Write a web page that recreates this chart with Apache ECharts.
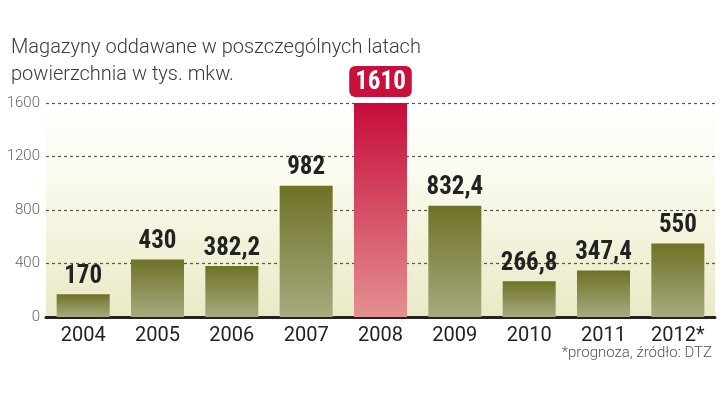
<!DOCTYPE html>
<html><head><meta charset="utf-8">
<script src="https://cdn.jsdelivr.net/npm/echarts@6/dist/echarts.min.js"></script>
<style>html,body{margin:0;padding:0;background:#fff}#c{width:720px;height:405px}</style>
</head><body><div id="c"></div>
<script>
const categories = ['2004','2005','2006','2007','2008','2009','2010','2011','2012*'];
const values = [170, 430, 382.2, 982, 1610, 832.4, 266.8, 347.4, 550];
const highlightIndex = 4;
const yTicks = [0, 400, 800, 1200, 1600];

const chart = echarts.init(document.getElementById('c'));
const olive = new echarts.graphic.LinearGradient(0,0,0,1,[{offset:0,color:'#6e7226'},{offset:1,color:'#a8aa80'}]);
const red = new echarts.graphic.LinearGradient(0,0,0,1,[{offset:0,color:'#c60b3a'},{offset:1,color:'#e39090'}]);
const fmt = v => String(v).replace('.', ',');

chart.setOption({
  animation:false,
  title:[
    {text:'Magazyny oddawane w poszczególnych latach\npowierzchnia w tys. mkw.', left:6, top:29,
     textStyle:{fontFamily:'Roboto', fontWeight:300, fontSize:20, lineHeight:27, color:'#3a3a3a'}},
    {text:'*prognoza, źródło: DTZ', right:3, top:341,
     textStyle:{fontFamily:'Roboto', fontWeight:300, fontSize:15, color:'#555'}}
  ],
  grid:{left:46, right:5, top:103, bottom:88, show:true, borderWidth:0,
    backgroundColor:new echarts.graphic.LinearGradient(0,0,0,1,[{offset:0,color:'#ffffff'},{offset:0.3,color:'#fbfbf1'},{offset:1,color:'#eae9c6'}])},
  xAxis:{type:'category', data:categories,
    axisLine:{lineStyle:{color:'#222', width:3}}, axisTick:{show:false},
    axisLabel:{color:'#222', fontFamily:'Roboto', fontSize:20, margin:9}},
  yAxis:{type:'value', min:0, max:1600, interval:400,
    axisLine:{show:false}, axisTick:{show:false},
    axisLabel:{color:'#666', fontFamily:'Roboto', fontWeight:300, fontSize:15, margin:6,
      formatter: v => yTicks.includes(v) ? String(v) : ''},
    splitLine:{lineStyle:{color:'#555', type:[3,3], width:1.2}}},
  series:[{type:'bar', barWidth:53, z:3,
    data: values.map((v,i)=> i===highlightIndex ? {
      value:v, itemStyle:{color:red},
      label:{color:'#fff', backgroundColor:'#c8103c', borderRadius:6, padding:[4,6,2,6], distance:6}
    } : {value:v, itemStyle:{color:olive}}),
    label:{show:true, position:'top', distance:5, fontFamily:'Liberation Sans Narrow, Roboto Condensed, Roboto',
      fontWeight:'bold', fontSize:25, color:'#222', formatter:p=>fmt(p.value)}
  }]
});
</script></body></html>
